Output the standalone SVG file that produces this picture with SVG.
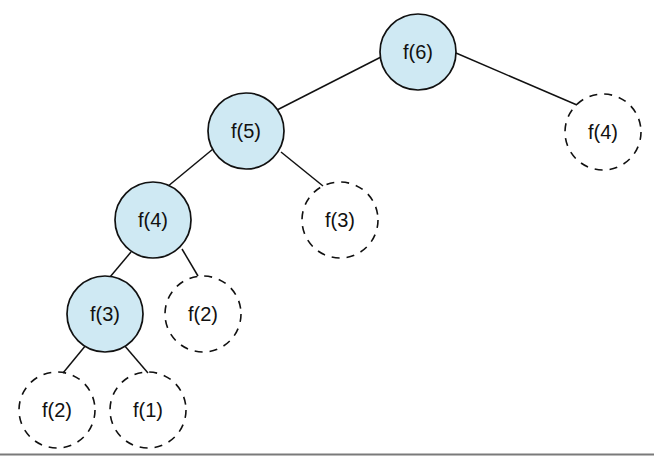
<svg xmlns="http://www.w3.org/2000/svg" width="654" height="456" viewBox="0 0 654 456">
<style>
.solid{fill:#cfe9f3;stroke:#111;stroke-width:1.7}
.dash{fill:none;stroke:#111;stroke-width:1.6;stroke-dasharray:8 7}
.edge{stroke:#111;stroke-width:1.5;fill:none}
text{font-family:"Liberation Sans",Arial,sans-serif;font-size:20px;fill:#111;text-anchor:middle}
</style>
<rect width="654" height="456" fill="#fff"/>
<g id="connectors">
<line class="edge" x1="381" y1="57" x2="277" y2="110"/>
<line class="edge" x1="456" y1="53" x2="577" y2="105"/>
<line class="edge" x1="213" y1="149" x2="167" y2="187"/>
<line class="edge" x1="281" y1="152" x2="323" y2="186"/>
<line class="edge" x1="131" y1="252" x2="110" y2="277"/>
<line class="edge" x1="182" y1="249" x2="198" y2="276"/>
<line class="edge" x1="86" y1="345" x2="63" y2="373"/>
<line class="edge" x1="124" y1="345" x2="148" y2="373"/>
</g>
<g id="n6"><circle class="solid" cx="418" cy="52" r="38"/><text x="418" y="59">f(6)</text></g>
<g id="n5"><circle class="solid" cx="246" cy="131" r="38"/><text x="246" y="138">f(5)</text></g>
<g id="n4a"><circle class="dash" cx="603" cy="132" r="38"/><text x="603" y="139">f(4)</text></g>
<g id="n4"><circle class="solid" cx="153" cy="220" r="38"/><text x="153" y="227">f(4)</text></g>
<g id="n3a"><circle class="dash" cx="340" cy="220" r="38"/><text x="340" y="227">f(3)</text></g>
<g id="n3"><circle class="solid" cx="105" cy="314" r="38"/><text x="105" y="321">f(3)</text></g>
<g id="n2a"><circle class="dash" cx="203" cy="314" r="38"/><text x="203" y="321">f(2)</text></g>
<g id="n2"><circle class="dash" cx="57" cy="410" r="38"/><text x="57" y="417">f(2)</text></g>
<g id="n1"><circle class="dash" cx="148" cy="410" r="38"/><text x="148" y="417">f(1)</text></g>
<line x1="0" y1="454.5" x2="654" y2="454.5" stroke="#7a7a7a" stroke-width="2"/>
</svg>
